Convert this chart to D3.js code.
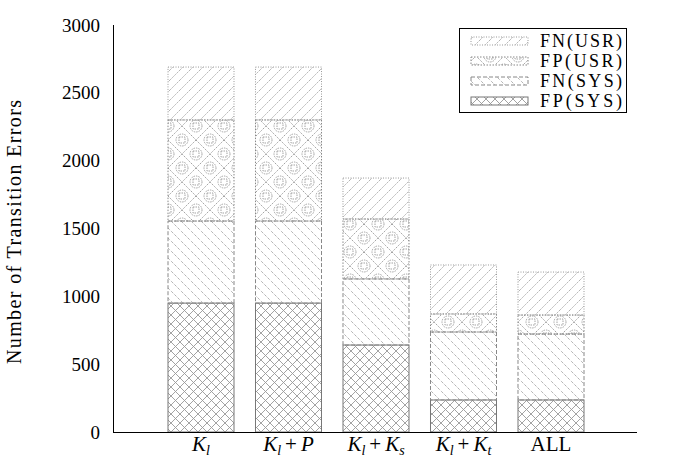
<!DOCTYPE html>
<html><head><meta charset="utf-8">
<script src="https://cdn.jsdelivr.net/npm/d3@7"></script>
<style>body{margin:0;background:#fff}svg{display:block}text{font-family:"Liberation Serif","DejaVu Serif",serif;fill:#000}</style>
</head><body><svg id="c" width="676" height="474"></svg>
<script>
const categories = ["Kl", "Kl+P", "Kl+Ks", "Kl+Kt", "ALL"];
const seriesNames = ["FP(SYS)", "FN(SYS)", "FP(USR)", "FN(USR)"];
const fpSys = [950, 950, 641, 236, 236];
const fnSys = [605, 605, 487, 501, 486];
const fpUsr = [745, 745, 442, 133, 140];
const fnUsr = [390, 390, 302, 361, 317];
const yTicks = [0, 500, 1000, 1500, 2000, 2500, 3000];

const svg = d3.select("#c");
const m = {l:113, r:637, t:25, b:432};
const x = d3.scaleBand().domain(categories).range([168, 584]).paddingInner(0.2457).paddingOuter(0);
const y = d3.scaleLinear().domain([0, 3000]).range([m.b, m.t]);

const defs = svg.append("defs");
function pat(id, w, h, draw){ const p = defs.append("pattern").attr("id", id).attr("patternUnits","userSpaceOnUse").attr("width", w).attr("height", h); draw(p); }
pat("pFNU", 10, 10, p => {
  p.append("path").attr("d","M-2,12 L12,-2 M-2,2 L2,-2 M8,12 L12,8").attr("stroke","#aaa").attr("stroke-width",0.9).attr("stroke-dasharray","2,1").attr("fill","none");
});
pat("pFNS", 10, 10, p => {
  p.append("path").attr("d","M-2,-2 L12,12 M-2,8 L2,12 M8,-2 L12,2").attr("stroke","#aaa").attr("stroke-width",0.9).attr("stroke-dasharray","3,1.5").attr("fill","none");
});
pat("pFPS", 9, 9, p => {
  p.append("path").attr("d","M0,0 L9,9 M9,0 L0,9").attr("stroke","#999").attr("stroke-width",0.9).attr("fill","none");
});
pat("pFPU", 28, 28, p => {
  const g = p.append("g").attr("stroke","#999").attr("stroke-width",0.9).attr("fill","none").attr("stroke-dasharray","1.5,1");
  g.append("path").attr("d","M0,0 L28,28 M28,0 L0,28");
  g.append("circle").attr("cx",14).attr("cy",0).attr("r",6);
  g.append("circle").attr("cx",14).attr("cy",28).attr("r",6);
  g.append("circle").attr("cx",0).attr("cy",14).attr("r",6);
  g.append("circle").attr("cx",28).attr("cy",14).attr("r",6);
  g.append("rect").attr("x",11).attr("y",-3).attr("width",6).attr("height",6);
  g.append("rect").attr("x",11).attr("y",25).attr("width",6).attr("height",6);
  g.append("rect").attr("x",-3).attr("y",11).attr("width",6).attr("height",6);
  g.append("rect").attr("x",25).attr("y",11).attr("width",6).attr("height",6);
});

const styles = [
  {fill:"url(#pFPS)", stroke:"#777", dash:null},
  {fill:"url(#pFNS)", stroke:"#888", dash:"4,2"},
  {fill:"url(#pFPU)", stroke:"#888", dash:"1.5,1.5"},
  {fill:"url(#pFNU)", stroke:"#999", dash:"1,1.5"}
];

const table = categories.map((c,i)=>({cat:c, "FP(SYS)":fpSys[i], "FN(SYS)":fnSys[i], "FP(USR)":fpUsr[i], "FN(USR)":fnUsr[i]}));
const stacked = d3.stack().keys(seriesNames)(table);

stacked.forEach((s, si) => {
  svg.append("g").selectAll("rect").data(s).join("rect")
    .attr("x", d => x(d.data.cat)).attr("width", x.bandwidth())
    .attr("y", d => y(d[1])).attr("height", d => y(d[0]) - y(d[1]))
    .attr("fill", styles[si].fill).attr("stroke", styles[si].stroke).attr("stroke-width", 1)
    .attr("stroke-dasharray", styles[si].dash);
});

// axes
svg.append("line").attr("x1",m.l+0.5).attr("x2",m.l+0.5).attr("y1",m.t).attr("y2",m.b).attr("stroke","#000");
svg.append("line").attr("x1",m.l).attr("x2",m.r).attr("y1",m.b+0.5).attr("y2",m.b+0.5).attr("stroke","#000");

svg.append("g").selectAll("text").data(yTicks).join("text")
  .attr("x", 100).attr("y", d => y(d)).attr("dy","0.35em").attr("text-anchor","end")
  .attr("font-size", 19).text(d => d);

svg.append("text").attr("transform","translate(21,232) rotate(-90)").attr("text-anchor","middle")
  .attr("font-size",20).attr("textLength",264).attr("lengthAdjust","spacing").text("Number of Transition Errors");

// x labels
const xl = svg.append("g");
function kl(t, parts){
  parts.forEach(pt => {
    const ts = t.append("tspan").text(pt.t);
    if (pt.i) ts.attr("font-style","italic");
    if (pt.sub) ts.attr("font-size",14).attr("dy",4);
    if (pt.up) ts.attr("dy",-4).attr("dx",4);
    if (pt.after) ts.attr("dx",4);
  });
}
const labelParts = {
  "Kl":[{t:"K",i:1},{t:"l",i:1,sub:1}],
  "Kl+P":[{t:"K",i:1},{t:"l",i:1,sub:1},{t:"+",up:1},{t:"P",i:1,after:1}],
  "Kl+Ks":[{t:"K",i:1},{t:"l",i:1,sub:1},{t:"+",up:1},{t:"K",i:1,after:1},{t:"s",i:1,sub:1}],
  "Kl+Kt":[{t:"K",i:1},{t:"l",i:1,sub:1},{t:"+",up:1},{t:"K",i:1,after:1},{t:"t",i:1,sub:1}],
  "ALL":[{t:"ALL"}]
};
categories.forEach(c => {
  const t = xl.append("text").attr("x", x(c)+x.bandwidth()/2).attr("y", 451).attr("text-anchor","middle").attr("font-size",21);
  kl(t, labelParts[c]);
});

// legend
const lg = svg.append("g");
lg.append("rect").attr("x",459.5).attr("y",28.5).attr("width",167).attr("height",84).attr("fill","#fff").attr("stroke","#000");
const legOrder = [3,2,1,0];
legOrder.forEach((si, k) => {
  const cy = 41 + k*20;
  lg.append("rect").attr("x",471).attr("y",cy-4).attr("width",57).attr("height",8)
    .attr("fill",styles[si].fill).attr("stroke",styles[si].stroke).attr("stroke-dasharray",styles[si].dash);
  lg.append("text").attr("x",540).attr("y",cy).attr("dy","0.35em").attr("font-size",18)
    .attr("textLength",82).attr("lengthAdjust","spacing").text(seriesNames[si]);
});
</script></body></html>
